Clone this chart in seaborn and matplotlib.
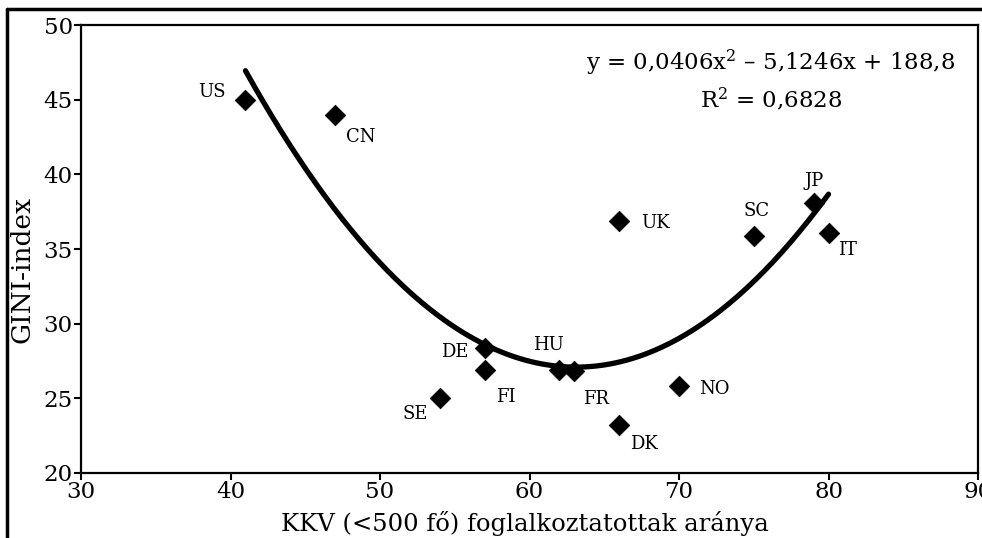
import numpy as np
import pandas as pd
import matplotlib
matplotlib.use("Agg")
import matplotlib.pyplot as plt
import seaborn as sns
from matplotlib.lines import Line2D

countries = ["US", "CN", "DE", "FI", "SE", "HU", "FR", "DK", "NO", "UK", "SC", "JP", "IT"]
kkv_share = [41, 47, 57, 57, 54, 62, 63, 66, 70, 66, 75, 79, 80]
gini = [45.0, 44.0, 28.4, 26.9, 25.0, 26.9, 26.8, 23.2, 25.8, 36.9, 35.9, 38.1, 36.1]
# label offsets in pixels (dx, dy)
label_offsets = [(-33, 8), (26, -22), (-30, -4), (21, -27), (-25, -16), (-11, 25),
                 (22, -28), (25, -19), (35, -3), (36, -2), (3, 25), (1, 22), (19, -17)]
trend_coef = [0.0406, -5.1246, 188.8]
x_ticks = [30, 40, 50, 60, 70, 80, 90]
y_ticks = [20, 25, 30, 35, 40, 45, 50]

df = pd.DataFrame({"country": countries, "kkv": kkv_share, "gini": gini})
xs = np.linspace(min(kkv_share), max(kkv_share), 200)
trend = pd.DataFrame({"kkv": xs, "gini": np.polyval(trend_coef, xs)})

sns.set_style("ticks")
plt.rcParams["font.family"] = ["DejaVu Serif"]
plt.rcParams["mathtext.fontset"] = "dejavuserif"
plt.rcParams["text.color"] = "black"
plt.rcParams["axes.labelcolor"] = "black"
plt.rcParams["xtick.color"] = "black"
plt.rcParams["ytick.color"] = "black"

fig = plt.figure(figsize=(9.82, 5.38), dpi=100)
ax = fig.add_axes([81 / 982, 1 - 473 / 538, (978 - 81) / 982, (473 - 25) / 538])

sns.lineplot(data=trend, x="kkv", y="gini", color="black", linewidth=3.8, ax=ax)
sns.scatterplot(data=df, x="kkv", y="gini", marker="D", s=110, color="black",
                edgecolor="black", linewidth=0.5, ax=ax, zorder=3)

for c, x, y, (dx, dy) in zip(countries, kkv_share, gini, label_offsets):
    ax.annotate(c, (x, y), xytext=(dx, dy), textcoords="offset pixels",
                ha="center", va="center", fontsize=13)

ax.text(0.974, 0.915, "y = 0,0406x$^{2}$ – 5,1246x + 188,8", transform=ax.transAxes,
        ha="right", va="center", fontsize=16.5)
ax.text(0.769, 0.833, "R$^{2}$ = 0,6828", transform=ax.transAxes,
        ha="center", va="center", fontsize=16.5)

ax.set_xlim(30, 90)
ax.set_ylim(20, 50)
ax.set_xticks(x_ticks)
ax.set_yticks(y_ticks)
ax.tick_params(direction="out", length=5, width=1.5, labelsize=16.5, pad=1,
               colors="black")
for s in ax.spines.values():
    s.set_linewidth(1.6)
    s.set_color("black")
    s.set_visible(True)
ax.set_xlabel("KKV (<500 fő) foglalkoztatottak aránya", fontsize=17.5)
ax.set_ylabel("GINI-index", fontsize=19)
ax.xaxis.set_label_coords(0.495, -0.085)
ax.yaxis.set_label_coords(-0.052, 0.454)

# outer frame of the original figure
fig.add_artist(Line2D([7 / 982, 7 / 982], [0, 1 - 9 / 538], color="black", lw=2.5,
                      transform=fig.transFigure))
fig.add_artist(Line2D([7 / 982, 1], [1 - 9 / 538, 1 - 9 / 538], color="black", lw=2.5,
                      transform=fig.transFigure))

fig.savefig("out.png", dpi=100)
